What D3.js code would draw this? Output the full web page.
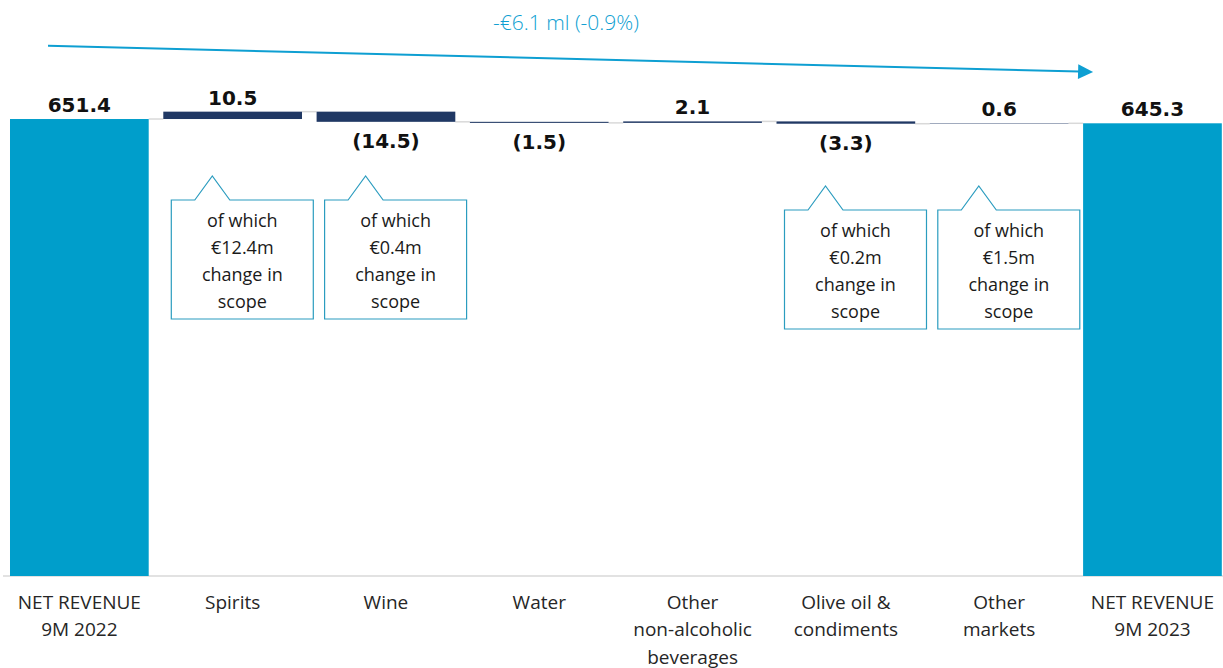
<!DOCTYPE html>
<html>
<head>
<meta charset="utf-8">
<script src="https://cdn.jsdelivr.net/npm/d3@7"></script>
<style>
  html, body { margin: 0; padding: 0; background: #ffffff; }
  svg { display: block; }
</style>
</head>
<body>
<svg id="chart" width="1223" height="668"></svg>
<script>
// Net revenue bridge, 9M 2022 -> 9M 2023 (€ million)
const categories = [
  "NET REVENUE 9M 2022", "Spirits", "Wine", "Water",
  "Other non-alcoholic beverages", "Olive oil & condiments",
  "Other markets", "NET REVENUE 9M 2023"
];
const categoryLines = [
  ["NET REVENUE", "9M 2022"], ["Spirits"], ["Wine"], ["Water"],
  ["Other", "non-alcoholic", "beverages"], ["Olive oil &", "condiments"],
  ["Other", "markets"], ["NET REVENUE", "9M 2023"]
];
const startTotal = 651.4;
const deltas = [10.5, -14.5, -1.5, 2.1, -3.3, 0.6];
const endTotal = 645.3;

// Change-in-scope component of selected deltas
const scopeCategories = ["Spirits", "Wine", "Olive oil & condiments", "Other markets"];
const scopeValues = [12.4, 0.4, 0.2, 1.5];

const W = 1223, H = 668;
const svg = d3.select("#chart");

const x = d3.scaleBand()
  .domain(categories)
  .range([2.7, 1229.1])
  .paddingInner(0.0952)
  .paddingOuter(0.0476);

const y = d3.scaleLinear().domain([0, 650]).range([576, 120]);

// Build waterfall segments
const segs = [];
segs.push({ cat: categories[0], lo: 0, hi: startTotal, value: startTotal, type: "total" });
let level = startTotal;
deltas.forEach((d, i) => {
  const next = level + d;
  segs.push({ cat: categories[i + 1], lo: Math.min(level, next), hi: Math.max(level, next),
              value: d, type: "delta", from: level, to: next });
  level = next;
});
segs.push({ cat: categories[7], lo: 0, hi: endTotal, value: endTotal, type: "total" });

const TOTAL = "#009ecb", DELTA = "#203864", GRID = "#d9d9d9", ACCENT = "#0e9fd2", BOX = "#2b9cbf";

// Baseline
svg.append("line")
  .attr("x1", 3).attr("x2", W).attr("y1", y(0)).attr("y2", y(0))
  .attr("stroke", GRID).attr("stroke-width", 1.5);

// Connectors between consecutive bars
const levels = [startTotal];
deltas.reduce((acc, d) => { levels.push(acc + d); return acc + d; }, startTotal);
levels.forEach((lv, i) => {
  const xa = x(categories[i]) + x.bandwidth();
  const xb = x(categories[i + 1]);
  svg.append("line")
    .attr("x1", xa).attr("x2", xb).attr("y1", y(lv)).attr("y2", y(lv))
    .attr("stroke", GRID).attr("stroke-width", 1.5);
});

// Bars
svg.append("g").selectAll("rect").data(segs).join("rect")
  .attr("x", d => x(d.cat))
  .attr("width", x.bandwidth())
  .attr("y", d => y(d.hi))
  .attr("height", d => y(d.lo) - y(d.hi))
  .attr("fill", d => d.type === "total" ? TOTAL : DELTA);

// Value labels (hyphen-minus instead of the Unicode minus)
const fmt = v => d3.format(".1f")(v).replace("\u2212", "-");
svg.append("g").selectAll("text").data(segs).join("text")
  .attr("x", d => x(d.cat) + x.bandwidth() / 2)
  .attr("y", d => d.value < 0 ? y(d.lo) + 26 : y(d.hi) - 7)
  .attr("text-anchor", "middle")
  .attr("font-family", "'DejaVu Sans', sans-serif")
  .attr("font-weight", "bold")
  .attr("font-size", 20)
  .attr("fill", "#111")
  .text(d => d.value < 0 ? `(${fmt(-d.value)})` : fmt(d.value));

// Category labels
const catG = svg.append("g")
  .attr("font-family", "'Open Sans', sans-serif")
  .attr("font-size", 19)
  .attr("fill", "#262626")
  .attr("text-anchor", "middle");
categories.forEach((c, i) => {
  const t = catG.append("text").attr("x", x(c) + x.bandwidth() / 2).attr("y", 608.5);
  categoryLines[i].forEach((ln, j) => {
    t.append("tspan").attr("x", x(c) + x.bandwidth() / 2).attr("dy", j === 0 ? 0 : 27.5).text(ln);
  });
});

// Overall change arrow
const diff = endTotal - startTotal;
const pct = diff / startTotal * 100;
const ax1 = x(categories[0]) + 38, ay1 = 45.7;
const tipX = x(categories[7]) + 10, tipY = 72;
const headLen = 15, headHalf = 7.5;
const ang = Math.atan2(tipY - ay1, tipX - ax1);
const bx = tipX - headLen * Math.cos(ang), by = tipY - headLen * Math.sin(ang);
svg.append("line")
  .attr("x1", ax1).attr("y1", ay1).attr("x2", bx + 1).attr("y2", by)
  .attr("stroke", ACCENT).attr("stroke-width", 2);
svg.append("path")
  .attr("d", d3.line()([
    [tipX, tipY],
    [bx - headHalf * Math.sin(ang), by + headHalf * Math.cos(ang)],
    [bx + headHalf * Math.sin(ang), by - headHalf * Math.cos(ang)]
  ]) + "Z")
  .attr("fill", ACCENT);
svg.append("text")
  .attr("x", 566).attr("y", 30)
  .attr("text-anchor", "middle")
  .attr("font-family", "'Open Sans', sans-serif")
  .attr("font-weight", 300)
  .attr("font-size", 21)
  .attr("fill", ACCENT)
  .text(`-€${fmt(Math.abs(diff))} ml (${fmt(pct)}%)`);

// Change-in-scope callouts
const calloutTop = { "Spirits": 200, "Wine": 200, "Olive oil & condiments": 210, "Other markets": 210 };
const boxW = 142, boxH = 119, notchH = 24, notchHalf = 17.5, notchX = 49;
scopeCategories.forEach((c, i) => {
  const bx0 = x(c) + 8, top = calloutTop[c];
  const nx = x(c) + notchX;
  const pts = [
    [bx0, top], [nx - notchHalf, top], [nx, top - notchH], [nx + notchHalf, top],
    [bx0 + boxW, top], [bx0 + boxW, top + boxH], [bx0, top + boxH]
  ];
  svg.append("path")
    .attr("d", d3.line()(pts) + "Z")
    .attr("fill", "#fff")
    .attr("stroke", BOX)
    .attr("stroke-width", 1.2);
  const lines = ["of which", `€${fmt(scopeValues[i])}m`, "change in", "scope"];
  const t = svg.append("text")
    .attr("text-anchor", "middle")
    .attr("font-family", "'Open Sans', sans-serif")
    .attr("font-size", 18)
    .attr("fill", "#1a1a1a");
  lines.forEach((ln, j) => {
    t.append("tspan").attr("x", bx0 + boxW / 2).attr("y", top + 26.7 + j * 27.2).text(ln);
  });
});
</script>
</body>
</html>
